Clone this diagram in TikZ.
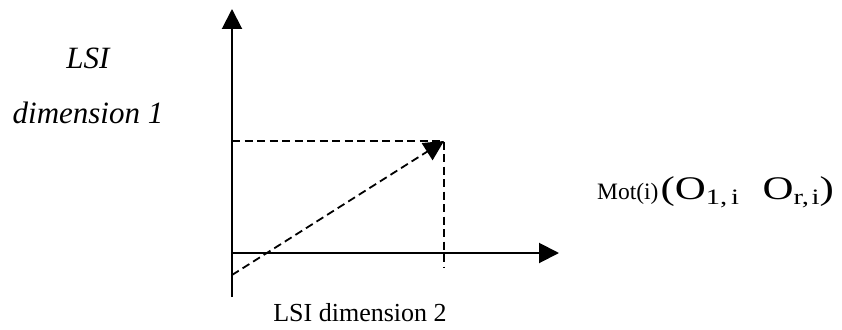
\documentclass[tikz,border=0pt]{standalone}
\usepackage{fontspec}
\setmainfont{Liberation Serif}
\usetikzlibrary{arrows.meta}
\tikzset{
  axis/.style={line width=2pt,-{Triangle[length=20pt,width=20pt]}},
  dashline/.style={line width=1.8pt,dash pattern=on 8pt off 4.5pt},
  dasharrow/.style={dashline,-{Triangle[length=20pt,width=20pt]}},
  lbl/.style={inner sep=0pt,anchor=base}
}
\begin{document}
\begin{tikzpicture}[x=1pt,y=-1pt]
\useasboundingbox (0,0) rectangle (842,329);
% coordinates
\coordinate (vbot) at (232,297);
\coordinate (vtop) at (232,9);
\coordinate (orig) at (232,253);
\coordinate (hright) at (559,253);
\coordinate (pt) at (444,141);
\coordinate (py) at (232,141);
\coordinate (px) at (444,268);
\coordinate (dstart) at (232,275);
% axes
\draw[axis] (vbot) -- (vtop);
\draw[axis] (orig) -- (hright);
% dashed lines
\draw[dashline] (py) -- (pt) -- (px);
\draw[dasharrow] (dstart) -- (pt);
% labels
\node[lbl] (lsi) at (88,68) {\fontsize{31}{31}\selectfont\itshape LSI};
\node[lbl] (dim1) at (88,123) {\fontsize{31}{31}\selectfont\itshape dimension 1};
\node[lbl] (dim2) at (360,321) {\fontsize{26}{26}\selectfont LSI dimension 2};
\node[inner sep=0pt,anchor=base west] (mot) at (597,199) {\fontsize{23.5}{23.5}\selectfont Mot(i)\hspace{2pt}\scalebox{1.3}[1]{\fontsize{33}{33}\selectfont (O\raisebox{-5.5pt}{\fontsize{22}{22}\selectfont 1,\hspace{3pt}i}\hspace{18pt}O\raisebox{-5.5pt}{\fontsize{22}{22}\selectfont r,\hspace{2pt}i})}};
\end{tikzpicture}
\end{document}
